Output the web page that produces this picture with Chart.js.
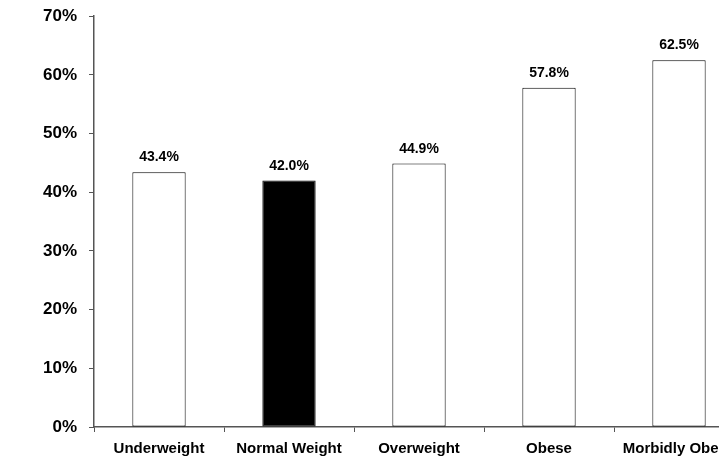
<!DOCTYPE html>
<html>
<head>
<meta charset="utf-8">
<script src="https://cdn.jsdelivr.net/npm/chart.js@4/dist/chart.umd.min.js"></script>
<style>
  html, body { margin: 0; padding: 0; overflow: hidden; background: #fff; }
  #wrap { width: 719px; height: 456px; overflow: hidden; }
  canvas { display: block; margin-top: -6px; }
</style>
</head>
<body>
<div id="wrap"><canvas id="grafico" width="745" height="462"></canvas></div>
<script>
const categorias = ['Underweight', 'Normal Weight', 'Overweight', 'Obese', 'Morbidly Obese'];
const valores = [43.4, 42.0, 44.9, 57.8, 62.5]; // percentuais
const coresBarras = ['#ffffff', '#000000', '#ffffff', '#ffffff', '#ffffff'];

// escreve o valor em cima de cada barra
const rotulosBarras = {
    id: 'rotulosBarras',
    afterDatasetsDraw(chart) {
        const ctx = chart.ctx;
        const meta = chart.getDatasetMeta(0);
        ctx.save();
        ctx.font = 'bold 14px "Liberation Sans", Arial, sans-serif';
        ctx.fillStyle = '#000';
        ctx.textAlign = 'center';
        ctx.textBaseline = 'alphabetic';
        meta.data.forEach((bar, i) => {
            ctx.fillText(valores[i].toFixed(1) + '%', bar.x, bar.y - 11);
        });
        ctx.restore();
    }
};

new Chart(document.getElementById('grafico'), {
    type: 'bar',
    data: {
        labels: categorias,
        datasets: [{
            data: valores,
            backgroundColor: coresBarras,
            borderColor: '#000',
            borderWidth: 1,
            borderSkipped: false,
            barPercentage: 0.41,
            categoryPercentage: 1
        }]
    },
    options: {
        responsive: false,
        animation: false,
        layout: { padding: { top: 9, right: 1, left: 0, bottom: 0 } },
        plugins: {
            legend: { display: false },
            tooltip: { enabled: false }
        },
        scales: {
            x: {
                offset: true,
                grid: { offset: true, drawOnChartArea: false, tickLength: 5, color: '#555' },
                border: { color: '#555', width: 1.5 },
                ticks: {
                    color: '#000',
                    padding: 8,
                    maxRotation: 0,
                    font: { family: '"Liberation Sans", Arial, sans-serif', size: 15, weight: 'bold' }
                },
                afterFit: (s) => { s.height = 29; }
            },
            y: {
                min: 0,
                max: 70,
                ticks: {
                    stepSize: 10,
                    color: '#000',
                    padding: 12,
                    font: { family: '"Liberation Sans", Arial, sans-serif', size: 17, weight: 'bold' },
                    callback: (v) => v + '%'
                },
                grid: { drawOnChartArea: false, tickLength: 5, color: '#555' },
                border: { color: '#555', width: 1.5 },
                afterFit: (s) => { s.width = 94; }
            }
        }
    },
    plugins: [rotulosBarras]
});
</script>
</body>
</html>
